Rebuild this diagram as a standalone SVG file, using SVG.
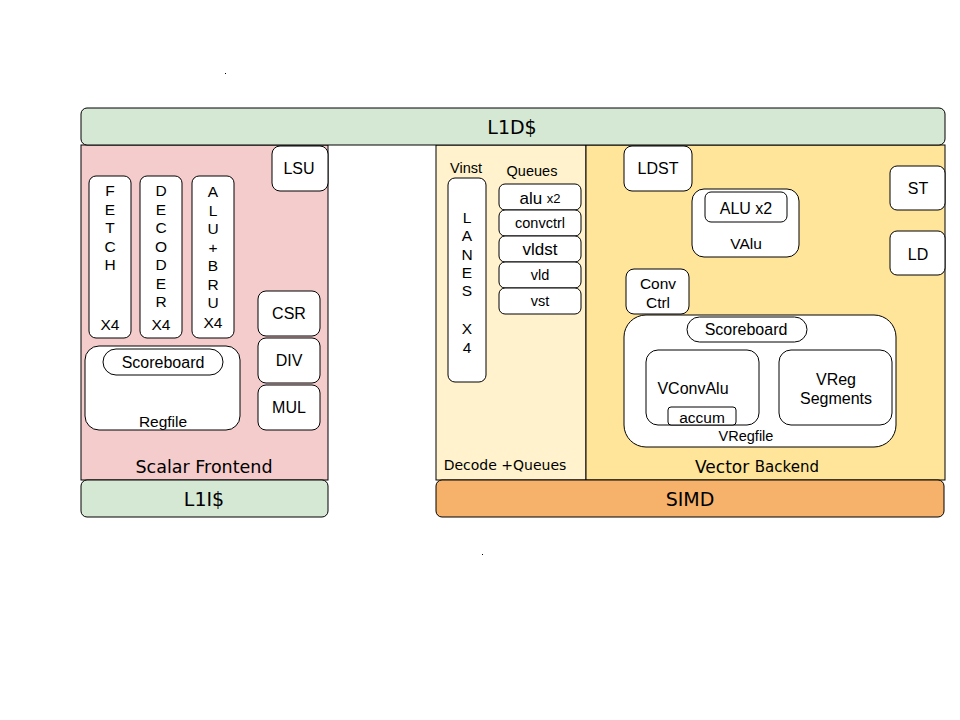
<svg xmlns="http://www.w3.org/2000/svg" width="960" height="720" viewBox="0 0 960 720">
<style>
.b{fill:#ffffff;stroke:#000;stroke-width:1}
.t{font-family:"Liberation Sans",Arial,sans-serif;font-size:16px;fill:#000;text-anchor:middle;dominant-baseline:central}
.s{font-size:15.5px}
.q{font-size:14.5px}
.h{font-family:"Comic Sans MS","DejaVu Sans",sans-serif;font-size:17.5px;fill:#000;text-anchor:middle;dominant-baseline:central}
</style>
<rect width="960" height="720" fill="#ffffff"/>
<rect x="225" y="73" width="1" height="1" fill="#000"/>
<rect x="482" y="554" width="1" height="1" fill="#000"/>
<g id="connectors"></g>
<g id="scalar-frontend"><rect x="81" y="145" width="247" height="335" fill="#f4cccc" stroke="#000"/><text class="h" x="204" y="467">Scalar Frontend</text></g>
<g id="decode-queues"><rect x="436" y="145" width="150" height="335" fill="#fff2cc" stroke="#000"/><text class="h" x="505" y="465" style="font-size:14px">Decode +Queues</text></g>
<g id="vector-backend"><rect x="586" y="145" width="359" height="335" fill="#ffe599" stroke="#000"/><text class="h" x="757" y="467"><tspan style="font-size:17px">Vector</tspan> <tspan style="font-size:15px">Backend</tspan></text></g>
<g id="l1d"><rect x="81" y="108" width="864" height="37" rx="6" fill="#d5e8d4" stroke="#000"/><text class="h" x="512" y="127" style="font-size:19px">L1D$</text></g>
<g id="l1i"><rect x="81" y="480" width="247" height="37" rx="6" fill="#d5e8d4" stroke="#000"/><text class="h" x="204" y="499" style="font-size:19px">L1I$</text></g>
<g id="simd"><rect x="436" y="480" width="508" height="37" rx="6" fill="#f6b26b" stroke="#000"/><text class="h" x="690" y="499" style="font-size:19px">SIMD</text></g>
<g id="lsu"><rect class="b" x="272" y="146" width="56" height="45" rx="8"/><text class="t" x="299" y="168">LSU</text></g>
<g id="fetch"><rect class="b" x="89" y="176" width="42" height="162" rx="7"/><text class="t s" x="110"><tspan x="110" y="190">F</tspan><tspan x="110" y="208.5">E</tspan><tspan x="110" y="227">T</tspan><tspan x="110" y="245.5">C</tspan><tspan x="110" y="264">H</tspan><tspan x="110" y="324">X4</tspan></text></g>
<g id="decoder"><rect class="b" x="140" y="176" width="42" height="162" rx="7"/><text class="t s" x="161"><tspan x="161" y="190">D</tspan><tspan x="161" y="208.5">E</tspan><tspan x="161" y="227">C</tspan><tspan x="161" y="245.5">O</tspan><tspan x="161" y="264">D</tspan><tspan x="161" y="282.5">E</tspan><tspan x="161" y="301">R</tspan><tspan x="161" y="324">X4</tspan></text></g>
<g id="alu-bru"><rect class="b" x="192" y="176" width="42" height="162" rx="7"/><text class="t s" x="213"><tspan x="213" y="191">A</tspan><tspan x="213" y="209.5">L</tspan><tspan x="213" y="228">U</tspan><tspan x="213" y="246.5">+</tspan><tspan x="213" y="265">B</tspan><tspan x="213" y="283.5">R</tspan><tspan x="213" y="302">U</tspan><tspan x="213" y="322">X4</tspan></text></g>
<g id="csr"><rect class="b" x="258" y="291" width="62" height="45" rx="8"/><text class="t" x="289" y="313">CSR</text></g>
<g id="div"><rect class="b" x="258" y="338" width="62" height="45" rx="8"/><text class="t" x="289" y="360">DIV</text></g>
<g id="mul"><rect class="b" x="258" y="385" width="62" height="45" rx="8"/><text class="t" x="289" y="407">MUL</text></g>
<g id="regfile"><rect class="b" x="85" y="346" width="155" height="84" rx="14"/><text class="t s" x="163" y="421">Regfile</text></g>
<g id="scoreboard"><rect class="b" x="103" y="349" width="120" height="26" rx="13"/><text class="t" x="163" y="362">Scoreboard</text></g>
<g id="vinst"><text class="t q" x="466" y="168">Vinst</text></g>
<g id="lanes"><rect class="b" x="448" y="178" width="38" height="204" rx="7"/><text class="t s" x="467"><tspan x="467" y="217">L</tspan><tspan x="467" y="235">A</tspan><tspan x="467" y="253.5">N</tspan><tspan x="467" y="272">E</tspan><tspan x="467" y="290">S</tspan><tspan x="467" y="328">X</tspan><tspan x="467" y="347">4</tspan></text></g>
<g id="queues"><text class="t q" x="532" y="171">Queues</text></g>
<g id="q-alu"><rect class="b" x="499" y="184" width="82" height="26" rx="6"/><text class="t" x="540" y="198"><tspan style="font-size:17px">alu</tspan> <tspan style="font-size:13px">x2</tspan></text></g>
<g id="q-convctrl"><rect class="b" x="499" y="210" width="82" height="26" rx="6"/><text class="t q" x="540" y="223">convctrl</text></g>
<g id="q-vldst"><rect class="b" x="499" y="236" width="82" height="26" rx="6"/><text class="t" x="540" y="249" style="font-size:17px">vldst</text></g>
<g id="q-vld"><rect class="b" x="499" y="262" width="82" height="26" rx="6"/><text class="t q" x="540" y="275">vld</text></g>
<g id="q-vst"><rect class="b" x="499" y="288" width="82" height="26" rx="6"/><text class="t q" x="540" y="301">vst</text></g>
<g id="ldst"><rect class="b" x="624" y="146" width="68" height="45" rx="8"/><text class="t" x="658" y="168">LDST</text></g>
<g id="valu"><rect class="b" x="692" y="189" width="107" height="68" rx="12"/><text class="t s" x="746" y="243">VAlu</text></g>
<g id="alu-x2"><rect class="b" x="705" y="192" width="82" height="30" rx="6"/><text class="t" x="746" y="208">ALU x2</text></g>
<g id="st"><rect class="b" x="890" y="166" width="55" height="44" rx="7"/><text class="t" x="918" y="188">ST</text></g>
<g id="ld"><rect class="b" x="890" y="231" width="55" height="44" rx="7"/><text class="t" x="918" y="254">LD</text></g>
<g id="conv-ctrl"><rect class="b" x="626" y="269" width="63" height="45" rx="8"/><text class="t s"><tspan x="658" y="283">Conv</tspan><tspan x="658" y="302">Ctrl</tspan></text></g>
<g id="vregfile"><rect class="b" x="624" y="315" width="272" height="132" rx="22"/><text class="t q" x="746" y="436">VRegfile</text></g>
<g id="vscoreboard"><rect class="b" x="687" y="317" width="120" height="25" rx="12.5"/><text class="t" x="746" y="329">Scoreboard</text></g>
<g id="vconvalu"><rect class="b" x="646" y="350" width="113" height="75" rx="12"/><text class="t" x="693" y="388">VConvAlu</text></g>
<g id="accum"><rect class="b" x="668" y="407" width="68" height="18" rx="3"/><text class="t s" x="702" y="417">accum</text></g>
<g id="vreg-segments"><rect class="b" x="779" y="350" width="113" height="75" rx="12"/><text class="t"><tspan x="836" y="379">VReg</tspan><tspan x="836" y="398">Segments</tspan></text></g>
</svg>
